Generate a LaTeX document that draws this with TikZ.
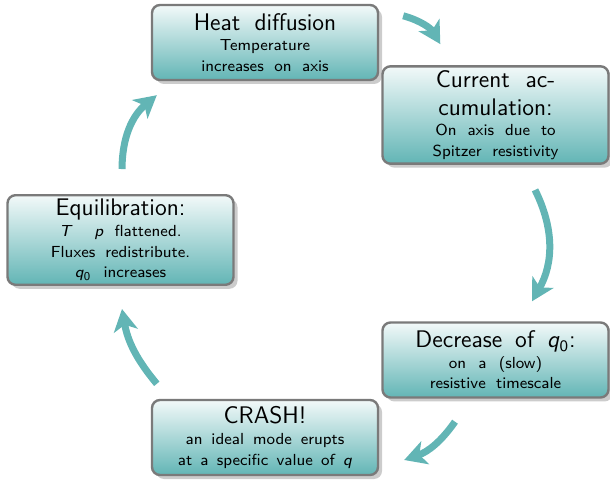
\documentclass[tikz,border=0pt]{standalone}
\usepackage{tikz}
\usetikzlibrary{arrows.meta, positioning, shadows}
\definecolor{CycleTeal}{HTML}{62B5B5}
\definecolor{FrameGray}{HTML}{7A7A7A}
\tikzset{
  stage/.style={draw=FrameGray, line width=1.2pt, rounded corners=4pt,
      top color=CycleTeal!8, bottom color=CycleTeal,
      drop shadow={shadow xshift=2pt, shadow yshift=-2pt, fill=black!40},
      minimum width=113pt, minimum height=37.5pt, text width=105pt,
      align=center, inner sep=2pt, font=\sffamily\footnotesize},
  cyc/.style={CycleTeal, line width=3.5pt,
      -{Stealth[length=11pt, width=12pt, inset=3pt]}},
}
\newcommand{\qzero}{\textit{q}\textsubscript{0}}
% title line, then the smaller body lines, with wide word spaces
\newcommand{\stagetext}[2]{%
  {\large\spaceskip=.38em plus .2em\relax #1\par}%
  {\spaceskip=.40em plus .2em\relax\baselineskip=10.3pt #2\par}}

\begin{document}
\begin{tikzpicture}[x=0.5pt, y=0.5pt]
\useasboundingbox (0,0) rectangle (610,-480);

% the five stages of the cycle
\node[stage] (heat) at (265,-42.5) {\stagetext{Heat diffusion}
    {Temperature\\ increases on axis}};
\node[stage] (cur) at (495.5,-115) {\stagetext{Current ac-\\cumulation:}
    {On axis due to\\ Spitzer resistivity}};
\node[stage] (dec) at (495.5,-360) {\stagetext{Decrease of \qzero:}
    {on a (slow)\\ resistive timescale}};
\node[stage] (crash) at (265,-437.5) {\stagetext{CRASH!}
    {an ideal mode erupts\\ at a specific value of \textit{q}}};
\node[stage] (equ) at (120.5,-240) {\stagetext{Equilibration:}
    {\textit{T}\ \ \textit{p} flattened.\\ Fluxes redistribute.\\ \qzero\ increases}};

% arrows round the cycle
\draw[cyc] ([shift={(24,-12)}]heat.north east) to[bend left=22] ([shift={(59,21)}]cur.north west);
\draw[cyc] ([shift={(39.5,-25)}]cur.south) to[bend left=28] ([shift={(36.5,20)}]dec.north);
\draw[cyc] ([shift={(-40.5,-23)}]dec.south) to[bend left=18] ([shift={(25,-22.5)}]crash.east);
\draw[cyc] ([shift={(6,15)}]crash.north west) to[bend left=15] ([shift={(1.5,-23)}]equ.south);
\draw[cyc] ([shift={(1.5,25)}]equ.north) to[bend left=25] ([shift={(6,-14)}]heat.south west);
\end{tikzpicture}
\end{document}
